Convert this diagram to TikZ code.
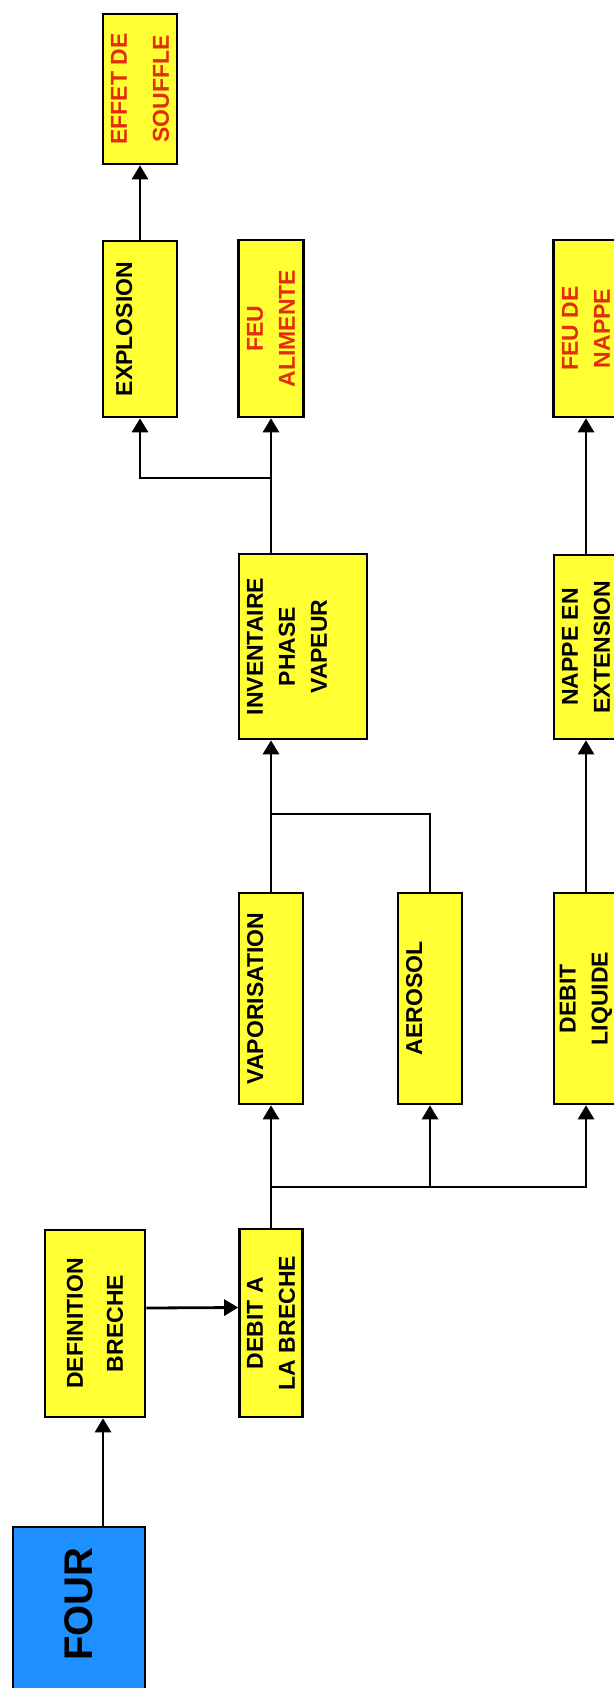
\documentclass[tikz,border=0pt]{standalone}
\usepackage{fontspec}
\setmainfont{Liberation Sans}
\usetikzlibrary{arrows.meta,positioning}
\definecolor{boxyellow}{RGB}{255,255,51}
\definecolor{firered}{RGB}{225,45,10}
\definecolor{fourblue}{RGB}{30,144,255}
\tikzset{
  stage/.style={draw,line width=1.3pt,fill=boxyellow,rotate=90,align=center,
    inner sep=1pt,font=\bfseries\fontsize{11.5}{16}\selectfont},
  hazard/.style={stage,text=firered},
  origin/.style={draw,line width=1.3pt,fill=fourblue,rotate=90,inner sep=1pt,
    font=\bfseries\fontsize{20}{24}\selectfont},
  link/.style={line width=1.4pt},
  arrow/.style={link,-{Triangle[length=7pt,width=8pt]}}
}
\begin{document}
\begin{tikzpicture}[x=0.5pt,y=-0.5pt]
\clip (0,0) rectangle (614,1688);
\node[origin,minimum width=90pt,minimum height=66pt] (four) at (79,1617) {\hspace*{13pt}FOUR};
\node[stage,minimum width=93.5pt,minimum height=50pt] (defbr) at (95,1323.5) {DEFINITION\\[4pt]BRECHE};
\node[stage,minimum width=94pt,minimum height=31.5pt] (debit) at (271,1323) {DEBIT A\\LA BRECHE};
\node[stage,minimum width=105.5pt,minimum height=32pt] (vapo) at (271,998.5) {VAPORISATION\\\mbox{}};
\node[stage,minimum width=105.5pt,minimum height=32pt] (aero) at (430,998.5) {AEROSOL\\\mbox{}};
\node[stage,minimum width=105.5pt,minimum height=32pt] (liq) at (586,998.5) {DEBIT\\LIQUIDE};
\node[stage,minimum width=92.5pt,minimum height=64pt] (inv) at (303,646.5) {INVENTAIRE\\PHASE\\VAPEUR\\\mbox{}};
\node[stage,minimum width=92pt,minimum height=32pt] (nappe) at (586,647) {NAPPE EN\\EXTENSION};
\node[hazard,minimum width=88.5pt,minimum height=32.5pt] (feual) at (271,328.5) {FEU\\ALIMENTE};
\node[hazard,minimum width=88.5pt,minimum height=32.5pt] (feunap) at (586,328.5) {FEU DE\\NAPPE};
\node[stage,minimum width=88pt,minimum height=37pt] (explo) at (140,329) {EXPLOSION\\\mbox{}};
\node[hazard,minimum width=75pt,minimum height=37pt] (effet) at (140,89) {EFFET DE\\[5pt]SOUFFLE};
\coordinate (split) at (271,1187);
\coordinate (merge) at (271,814);
\coordinate (fork) at (271,478);
\draw[arrow] ([xshift=12pt]four.east) -- ([xshift=12pt]four.east |- defbr.west);
\draw[arrow] ([yshift=7.75pt]defbr.south) -- ([yshift=7.75pt]debit.north);
\draw[arrow] (debit.east) -- (vapo.west);
\draw[arrow] (split) -| (aero.west);
\draw[arrow] (split) -| (liq.west);
\draw[arrow] (vapo.east) -- (vapo.east |- inv.west);
\draw[link] (aero.east) |- (merge);
\draw[arrow] (liq.east) -- (nappe.west);
\draw[arrow] (nappe.east) -- (feunap.west);
\draw[arrow] (feual.west |- inv.east) -- (feual.west);
\draw[arrow] (fork) -| (explo.west);
\draw[arrow] (explo.east) -- (effet.west);
\end{tikzpicture}
\end{document}
